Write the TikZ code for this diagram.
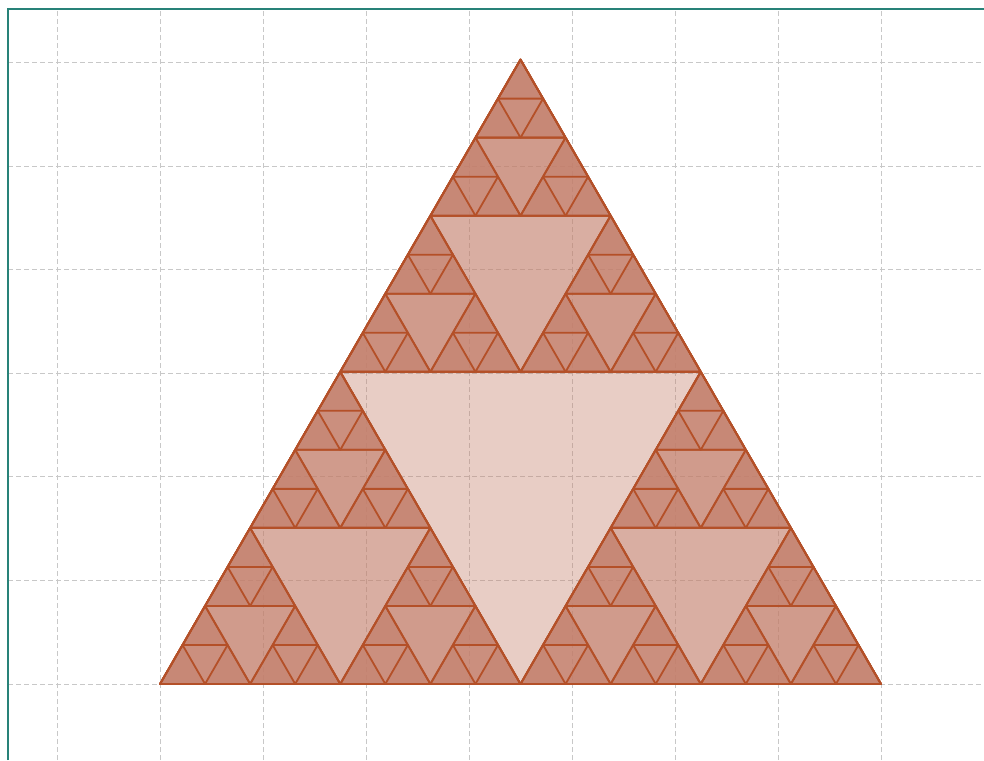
\documentclass[tikz,border=0pt]{standalone}
\usetikzlibrary{calc}
\definecolor{sfillc}{RGB}{195,125,105}
\definecolor{sdrawc}{RGB}{180,80,40}
\definecolor{gridc}{RGB}{200,200,200}
\definecolor{framec}{RGB}{40,130,120}
\tikzset{
  sfill/.style={fill=sfillc, fill opacity=0.38},
  sline/.style={draw=sdrawc, line width=1.8pt, line join=round},
  gridline/.style={draw=gridc, line width=1pt, dash pattern=on 5pt off 3pt},
  frameline/.style={draw=framec, line width=2pt}
}
\newcommand\sierpfill[4]{%
  \fill[sfill] (#1,#2) -- ++(#3,0) -- ++(120:#3) -- cycle;%
  \ifnum#4>0\relax
    \pgfmathsetmacro\shs{#3/2}%
    \pgfmathsetmacro\sxa{#1+#3/2}%
    \pgfmathsetmacro\sxb{#1+#3/4}%
    \pgfmathsetmacro\syb{#2+#3*0.4330127}%
    \pgfmathtruncatemacro\sdd{#4-1}%
    \edef\snext{\noexpand\sierpfill{#1}{#2}{\shs}{\sdd}\noexpand\sierpfill{\sxa}{#2}{\shs}{\sdd}\noexpand\sierpfill{\sxb}{\syb}{\shs}{\sdd}}%
    \snext
  \fi}
\newcommand\sierpline[4]{%
  \draw[sline] (#1,#2) -- ++(#3,0) -- ++(120:#3) -- cycle;%
  \ifnum#4>0\relax
    \pgfmathsetmacro\shs{#3/2}%
    \pgfmathsetmacro\sxa{#1+#3/2}%
    \pgfmathsetmacro\sxb{#1+#3/4}%
    \pgfmathsetmacro\syb{#2+#3*0.4330127}%
    \pgfmathtruncatemacro\sdd{#4-1}%
    \edef\snext{\noexpand\sierpline{#1}{#2}{\shs}{\sdd}\noexpand\sierpline{\sxa}{#2}{\shs}{\sdd}\noexpand\sierpline{\sxb}{\syb}{\shs}{\sdd}}%
    \snext
  \fi}
\begin{document}
\begin{tikzpicture}[x=1pt,y=1pt]
\useasboundingbox (0,0) rectangle (984,760);
\fill[white] (0,0) rectangle (984,760);
% grid
\foreach \gx in {0,...,9} {
  \draw[gridline] ({57+103*\gx},0) -- ({57+103*\gx},751);
}
\foreach \gy in {0,...,6} {
  \draw[gridline] (8,{76+103.5*\gy}) -- (984,{76+103.5*\gy});
}
% frame
\coordinate (fbl) at (8,0);
\coordinate (ftl) at (8,751);
\coordinate (ftr) at (984,751);
\draw[frameline] (fbl) -- (ftl) -- (ftr);
% Sierpinski triangle
\sierpfill{160}{76}{721}{4}
\sierpline{160}{76}{721}{4}
\end{tikzpicture}
\end{document}
